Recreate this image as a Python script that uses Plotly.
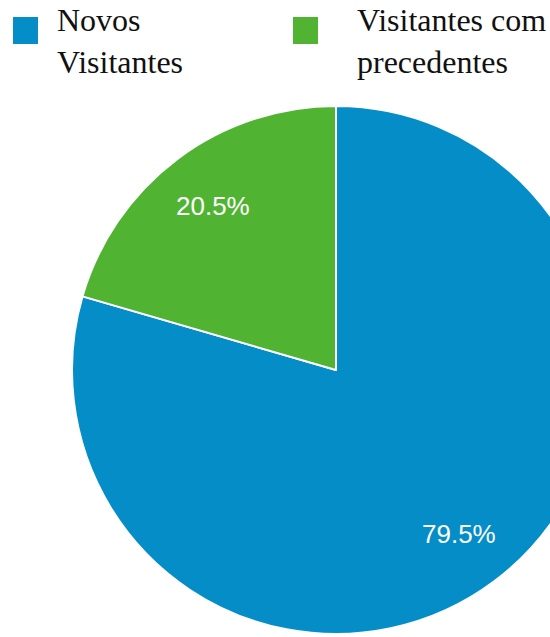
import math
import plotly.graph_objects as go

# Data
categories = ["Novos<br>Visitantes", "Visitantes com<br>precedentes"]
values = [79.5, 20.5]
colors = ["#058DC7", "#50B432"]

W, H = 672, 634
L, R, T, B = 0, 0, 106, 0
Wp, Hp = W - L - R, H - T - B
RADIUS = min(Wp, Hp) / 2

def px_x(p):
    return (p - L) / Wp

def px_y(p):
    return 1 - (p - T) / Hp

fig = go.Figure(go.Pie(
    labels=[c.replace("<br>", " ") for c in categories],
    values=values,
    marker=dict(colors=colors, line=dict(color="white", width=2)),
    sort=False,
    direction="clockwise",
    rotation=0,
    textinfo="none",
    hoverinfo="label+percent",
    showlegend=False,
))

shapes = []
annotations = []

# Percent labels along each slice's bisector
total = sum(values)
cum = 0.0
for v in values:
    mid = (cum + v / 2) / total * 2 * math.pi
    cum += v
    ax = 0.5 + 0.775 * RADIUS * math.sin(mid) / Wp
    ay = 0.5 + 0.775 * RADIUS * math.cos(mid) / Hp
    annotations.append(dict(text=f"{v / total * 100:.1f}%", xref="paper", yref="paper",
                            x=ax, y=ay, xanchor="center", yanchor="middle",
                            showarrow=False,
                            font=dict(family="Liberation Sans", size=26, color="white")))

# Legend drawn as squares + labels
sq_x = [13, 293]
txt_x = [55, 355]
for i, cat in enumerate(categories):
    shapes.append(dict(type="rect", xref="paper", yref="paper",
                       x0=px_x(sq_x[i]), x1=px_x(sq_x[i] + 25),
                       y0=px_y(17), y1=px_y(44),
                       fillcolor=colors[i], line=dict(width=0)))
    annotations.append(dict(text=cat, xref="paper", yref="paper",
                            x=px_x(txt_x[i]), y=px_y(0),
                            xanchor="left", yanchor="top", align="left",
                            showarrow=False,
                            font=dict(family="Times New Roman, DejaVu Serif, serif", size=32, color="#111111")))

fig.update_layout(
    width=W, height=H,
    margin=dict(l=L, r=R, t=T, b=B),
    paper_bgcolor="white",
    plot_bgcolor="white",
    shapes=shapes,
    annotations=annotations,
)

fig.write_html("out.html",
               post_script="document.body.style.margin='0';document.body.style.overflow='hidden';")
